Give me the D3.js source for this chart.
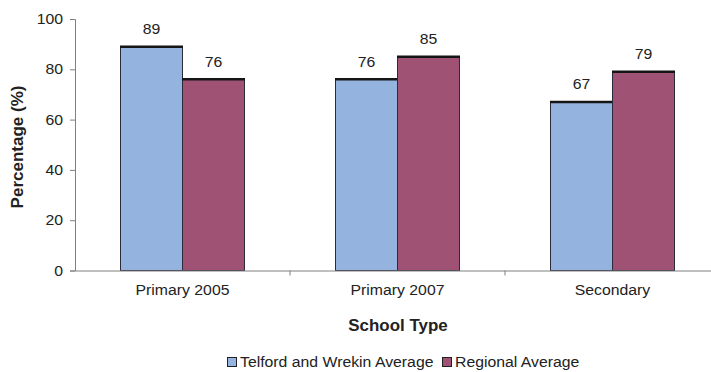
<!DOCTYPE html>
<html><head><meta charset="utf-8">
<script src="https://cdn.jsdelivr.net/npm/d3@7"></script>
<style>
body{margin:0;background:#fff;}
text{font-family:"Liberation Sans",Arial,sans-serif;fill:#222;}
</style></head>
<body><svg id="c" width="711" height="372"></svg>
<script>
const categories = ["Primary 2005", "Primary 2007", "Secondary"];
const seriesNames = ["Telford and Wrekin Average", "Regional Average"];
const telford = [89, 76, 67];
const regional = [76, 85, 79];
const yTicks = [0, 20, 40, 60, 80, 100];
const colors = ["#95B3DF", "#A05274"];

const SX = 1.09, FS = "14.5px";
const svg = d3.select("#c");
const x0 = 75, x1 = 720, yTop = 19, yBot = 270.5;
const x = d3.scaleBand().domain(categories).range([x0, x1]);
const xs = d3.scaleBand().domain([0,1]).range([0, 124]);
const y = d3.scaleLinear().domain([0, 100]).range([yBot, yTop]);
const series = [telford, regional];

function stext(parent, px, py, str, anchor, size, weight, sx) {
  const g = parent.append("g").attr("transform", `translate(${px},${py}) scale(${sx || SX},1)`);
  return g.append("text").attr("text-anchor", anchor || "start").style("font-size", size || FS)
    .style("font-weight", weight || "normal").text(str);
}

// y axis
const ya = svg.append("g").attr("transform", `translate(${x0},0)`)
  .call(d3.axisLeft(y).tickValues(yTicks).tickSize(5).tickPadding(6));
ya.select(".domain").attr("stroke", "#808080");
ya.selectAll(".tick line").attr("stroke", "#808080");
ya.selectAll(".tick text").style("font-size", FS).attr("fill", "#222")
  .attr("font-family", "Liberation Sans, Arial").attr("x", 0)
  .attr("transform", `translate(-12,0) scale(${SX},1)`);

// bars
categories.forEach((c, i) => {
  const cx = x(c) + x.bandwidth()/2 - 62;
  series.forEach((s, j) => {
    const v = s[i];
    const bx = cx + xs(j);
    svg.append("rect").attr("x", bx).attr("y", y(v)).attr("width", xs.bandwidth()).attr("height", yBot - y(v))
      .attr("fill", colors[j]).attr("stroke", "#2a2a3a").attr("stroke-width", 1);
    svg.append("line").attr("x1", bx - 0.5).attr("x2", bx + xs.bandwidth() + 0.5).attr("y1", y(v)).attr("y2", y(v))
      .attr("stroke", "#151515").attr("stroke-width", 2.5);
    stext(svg, bx + xs.bandwidth()/2, y(v) - 12.5, v, "middle");
  });
});

// x axis
const xa = svg.append("g").attr("transform", `translate(0,${yBot})`)
  .call(d3.axisBottom(x).tickSize(0).tickPadding(14));
xa.select(".domain").attr("stroke", "#808080");
xa.selectAll(".tick text").style("font-size", FS).attr("fill", "#222")
  .attr("font-family", "Liberation Sans, Arial").attr("transform", `scale(${SX},1)`);
// category separators
svg.selectAll(".sep").data(categories.slice(1)).enter().append("line")
  .attr("x1", d => x(d)).attr("x2", d => x(d)).attr("y1", yBot).attr("y2", yBot + 5).attr("stroke", "#808080");

// axis titles
stext(svg, 398, 331, "School Type", "middle", "16px", "bold", 1.06);
svg.append("text").attr("transform", "translate(23,147) rotate(-90)").attr("text-anchor", "middle")
  .style("font-size", "17px").style("font-weight", "bold").text("Percentage (%)");

// legend
const legX = [227, 442];
seriesNames.forEach((n, j) => {
  svg.append("rect").attr("x", legX[j] + 0.5).attr("y", 357.5).attr("width", 9).attr("height", 9)
    .attr("fill", colors[j]).attr("stroke", "#222").attr("stroke-width", 1);
  stext(svg, legX[j] + 13, 367, n, "start");
});
</script></body></html>
